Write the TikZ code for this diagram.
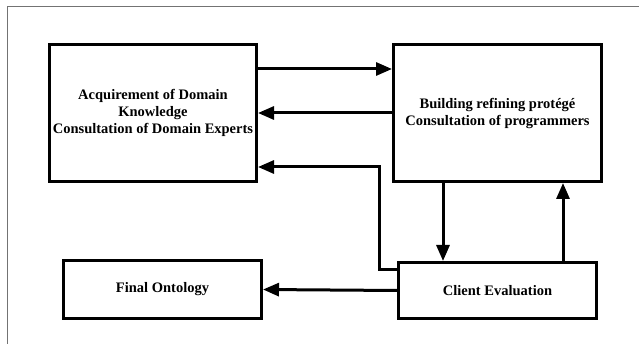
\documentclass[tikz,border=0pt]{standalone}
\usepackage{fontspec}
\setmainfont{Liberation Serif}
\usetikzlibrary{arrows.meta}
\begin{document}
\begin{tikzpicture}[x=1pt, y=-1pt,
    block/.style={draw, line width=3pt, align=center, inner sep=0pt,
        font=\fontsize{14.5}{17}\selectfont\bfseries},
    arr/.style={line width=3pt, -{Triangle[length=16pt, width=13pt]}}]
\useasboundingbox (0,0) rectangle (639,344);
\draw[gray!90!black, line width=1pt] (7,350) -- (7,7) -- (645,7);

\node[block, minimum width=207pt, minimum height=137pt] (acq) at (153,113)
    {Acquirement of Domain\\Knowledge\\Consultation of Domain Experts};
\node[block, minimum width=208pt, minimum height=137pt] (build) at (497.5,113)
    {Building refining protégé\\Consultation of programmers};
\node[block, minimum width=198pt, minimum height=58pt] (final) at (162.5,289.5)
    {Final Ontology};
\node[block, minimum width=198pt, minimum height=56pt] (client) at (497.5,290.5)
    {Client Evaluation};

\draw[arr] ([yshift=44pt]acq.east) -- ([yshift=44pt]acq.east -| build.west);
\draw[arr] (build.west |- acq.east) -- (acq.east);
\draw[arr] ([yshift=20.5pt]client.west) -| (379,167) -- ([yshift=-54pt]acq.east);
\draw[arr] ([xshift=-54.5pt]build.south) -- ([xshift=-54.5pt]build.south |- client.north);
\draw[arr] ([xshift=65.5pt]client.north) -- ([xshift=65.5pt]client.north |- build.south);
\draw[arr] (client.west) -- (final.east);
\end{tikzpicture}
\end{document}
